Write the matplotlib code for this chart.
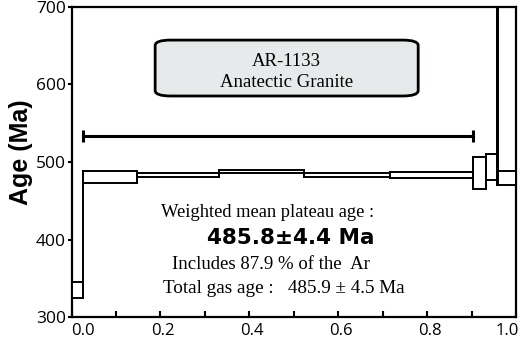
import matplotlib
matplotlib.use("Agg")
import matplotlib.pyplot as plt
from matplotlib.patches import Rectangle, FancyBboxPatch
from matplotlib.transforms import ScaledTranslation

# cumulative 39Ar released (step edges) and apparent age of each step
frac_edges = [0.0, 0.025, 0.148, 0.332, 0.524, 0.716, 0.904, 0.932, 0.957, 0.9595, 1.0]
step_age = [334.8, 480.4, 483.2, 487.3, 483.2, 483.2, 486.0, 493.7, 620.0, 479.9]
step_err = [10.3, 7.9, 2.2, 2.0, 3.0, 4.3, 20.8, 17.0, 149.0, 8.9]

plateau_steps = (1, 6)   # first step in, first step out
plateau_y = 533

sample = "AR-1133"
rock = "Anatectic Granite"
plateau_age = 485.8
plateau_sd = 4.4
pct_ar = 87.9
total_age = 485.9
total_sd = 4.5

fig = plt.figure(figsize=(5.27, 3.45), dpi=100)
ax = fig.add_axes([0.1359, 0.0803, 0.979 - 0.1359, 0.9806 - 0.0803])

# one open box per heating step
for i in range(len(step_age)):
    x0, x1 = frac_edges[i], frac_edges[i + 1]
    lo = step_age[i] - step_err[i]
    ax.add_patch(Rectangle((x0, lo), x1 - x0, 2 * step_err[i],
                           facecolor="white", edgecolor="black", lw=1.4, zorder=3))

# vertical joins between neighbouring steps
for i in range(1, len(step_age)):
    lows = [step_age[i - 1] - step_err[i - 1], step_age[i] - step_err[i]]
    highs = [step_age[i - 1] + step_err[i - 1], step_age[i] + step_err[i]]
    ax.plot([frac_edges[i], frac_edges[i]], [min(lows), max(highs)],
            color="black", lw=1.4, zorder=2)

# plateau bar
px0 = frac_edges[plateau_steps[0]]
px1 = frac_edges[plateau_steps[1]]
ax.plot([px0, px1], [plateau_y, plateau_y], color="black", lw=2.2, zorder=3)
ax.plot([px0, px1], [plateau_y, plateau_y], ls="none", marker="|",
        ms=8, mew=2.2, color="black", zorder=3)

# sample label box
ax.add_patch(FancyBboxPatch((0.188, 585), 0.592, 72,
                            boxstyle="round,pad=0,rounding_size=0.035",
                            mutation_aspect=200,
                            facecolor="#e7eaea", edgecolor="black", lw=2, zorder=4))
serif = "Liberation Serif"
ax.text(0.484, 629, sample, ha="center", va="center", family=serif,
        fontsize=13.5, zorder=5)
ax.text(0.484, 602, rock, ha="center", va="center", family=serif,
        fontsize=13.5, zorder=5)

ax.text(0.442, 435.5, "Weighted mean plateau age :", ha="center", va="center",
        family=serif, fontsize=13.3)
ax.text(0.493, 402, f"{plateau_age}\u00b1{plateau_sd} Ma", ha="center",
        va="center", family="DejaVu Sans", fontweight="bold", fontsize=15.5)
ax.text(0.449, 368.5, f"Includes {pct_ar} % of the  Ar", ha="center",
        va="center", family=serif, fontsize=13.5)
ax.text(0.477, 337.5, f"Total gas age :   {total_age} \u00b1 {total_sd} Ma",
        ha="center", va="center", family=serif, fontsize=13.8)

ax.set_xlim(0, 1)
ax.set_ylim(300, 700)

for s in ax.spines.values():
    s.set_linewidth(1.6)

tick_font = "Open Sans"
ax.set_xticks([0.0, 0.2, 0.4, 0.6, 0.8, 1.0])
ax.set_xticklabels(["0.0", "0.2", "0.4", "0.6", "0.8", "1.0"],
                   family=tick_font, fontsize=12)
ax.set_xticks([0.1, 0.3, 0.5, 0.7, 0.9], minor=True)
ax.tick_params(axis="x", which="both", direction="in", length=4, width=1.5,
               pad=4)
ax.set_yticks([300, 400, 500, 600, 700])
ax.set_yticklabels(["300", "400", "500", "600", "700"], family=tick_font,
                   fontsize=12.5)
ax.tick_params(axis="y", direction="out", length=3, width=1.5, pad=1)

shift = ScaledTranslation(2 / 72, 0, fig.dpi_scale_trans)
xl = ax.get_xticklabels()
for lab in xl[1:]:
    lab.set_transform(lab.get_transform() + shift)
xl[0].set_ha("left")
xl[-1].set_ha("right")

ax.set_ylabel("Age (Ma)", family="Liberation Sans", fontweight="bold",
              fontsize=18)
ax.yaxis.set_label_coords(-0.087, 0.532)

fig.savefig("out.png", dpi=100)
